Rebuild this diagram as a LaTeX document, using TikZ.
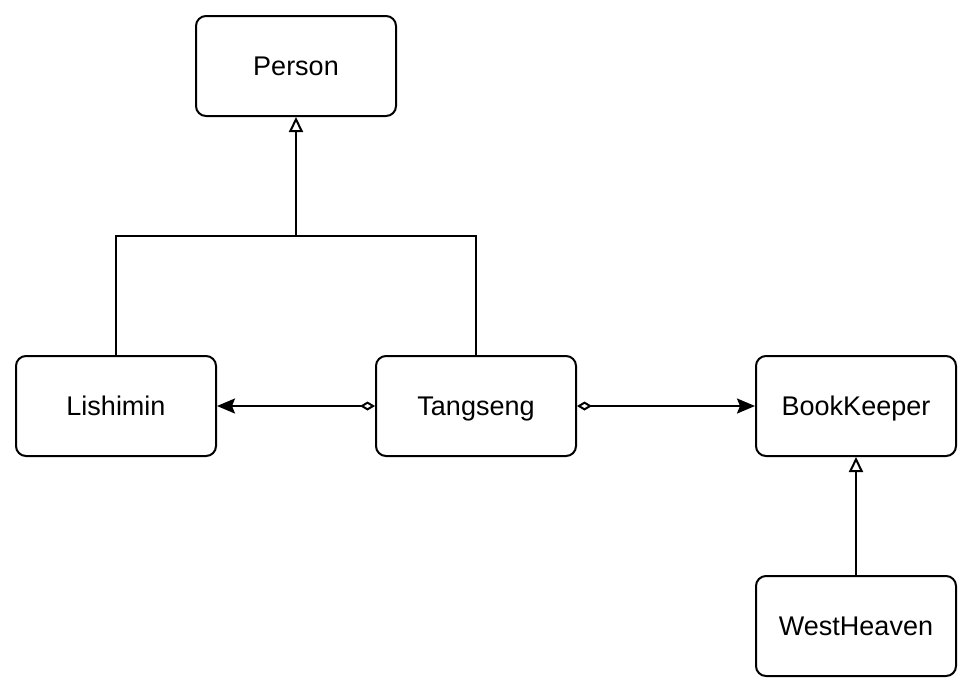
\documentclass[tikz,border=0pt]{standalone}
\usepackage{fontspec}
\setmainfont{Liberation Sans}
\usepackage{tikz}
\usetikzlibrary{arrows.meta,positioning}
\definecolor{ink}{HTML}{000000}
\tikzset{
  every picture/.style={line width=2pt,draw=ink,font=\fontsize{27}{32}\selectfont},
  cls/.style={draw=ink,fill=white,rounded corners=10pt,minimum width=200pt,minimum height=100pt,inner sep=0pt,text height=19.5pt,text depth=0pt},
  inh/.style={-{Triangle[open,length=15pt,width=14pt]},draw=ink},
  agg/.style={{Diamond[open,length=15pt,width=9pt]}-{Stealth[length=18pt,width=15pt,inset=3pt]},draw=ink},
}
\begin{document}
\begin{tikzpicture}[x=1pt,y=-1pt]
  \useasboundingbox (0,0) rectangle (974,694);
  \node[cls] (person) at (296,66) {Person};
  \node[cls] (lish) at (116,406) {Lishimin};
  \node[cls] (tang) at (476,406) {Tangseng};
  \node[cls] (book) at (856,406) {BookKeeper};
  \node[cls] (west) at (856,626) {WestHeaven};
  \coordinate (bar) at (296,236);
  % generalisation
  \draw (lish.north) |- (bar) -| (tang.north);
  \draw[inh] (bar) -- (person.south);
  \draw[inh] (west.north) -- (book.south);
  % aggregation
  \draw[agg] (tang.west) -- (lish.east);
  \draw[agg] (tang.east) -- (book.west);
\end{tikzpicture}
\end{document}
